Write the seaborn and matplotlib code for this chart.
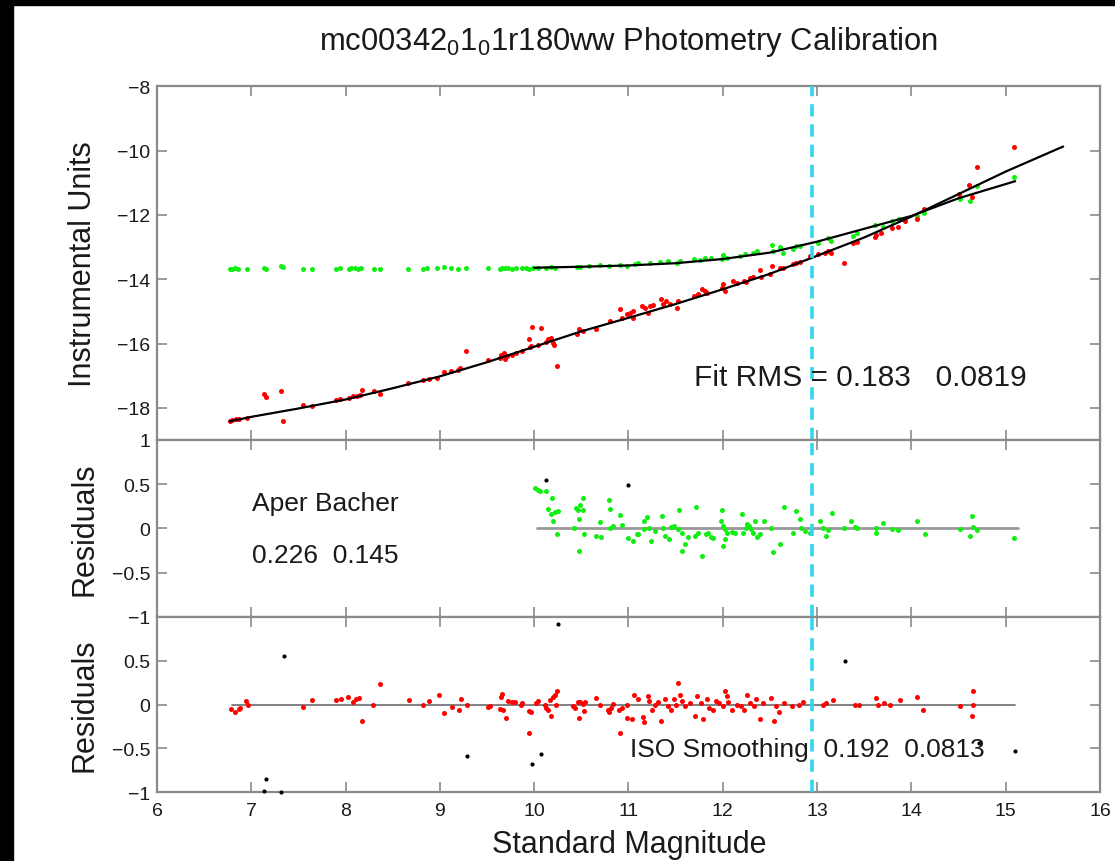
import matplotlib
matplotlib.use("Agg")
import matplotlib.pyplot as plt
from matplotlib.patches import Rectangle
import seaborn as sns

# ---------------- data ----------------
top_red_x = [6.77, 6.80, 6.84, 6.87, 6.95, 7.14, 7.16, 7.31, 7.34, 7.55, 7.64, 7.90, 7.94, 8.04, 8.08,
             8.12, 8.15, 8.17, 8.30, 8.36, 8.66, 8.82, 8.88, 8.97, 9.04, 9.12, 9.19, 9.21, 9.28, 9.51,
             9.64, 9.65, 9.68, 9.69, 9.71, 9.76, 9.81, 9.87, 9.94, 9.96, 9.97, 9.98, 10.04, 10.07, 10.13,
             10.15, 10.18, 10.20, 10.21, 10.24, 10.45, 10.48, 10.52, 10.66, 10.80, 10.91, 10.93, 10.98,
             11.02, 11.05, 11.05, 11.14, 11.18, 11.21, 11.23, 11.26, 11.35, 11.37, 11.40, 11.44, 11.51,
             11.53, 11.70, 11.74, 11.78, 11.81, 11.83, 11.99, 12.00, 12.02, 12.11, 12.15, 12.22, 12.25,
             12.29, 12.32, 12.39, 12.41, 12.50, 12.52, 12.61, 12.64, 12.75, 12.78, 12.82, 12.92, 13.01,
             13.08, 13.12, 13.15, 13.29, 13.38, 13.42, 13.61, 13.63, 13.68, 13.79, 13.86, 13.93, 14.06,
             14.13, 14.51, 14.61, 14.64, 14.70, 15.09]
top_red_y = [-18.41, -18.38, -18.34, -18.34, -18.32, -17.58, -17.66, -17.48, -18.41, -17.90, -17.93,
             -17.76, -17.74, -17.69, -17.64, -17.64, -17.61, -17.43, -17.48, -17.58, -17.24, -17.12,
             -17.09, -17.07, -16.89, -16.86, -16.83, -16.75, -16.23, -16.52, -16.44, -16.37, -16.29,
             -16.48, -16.38, -16.36, -16.29, -16.24, -15.87, -16.10, -16.08, -15.48, -16.03, -15.51,
             -15.95, -15.85, -15.82, -15.98, -16.03, -16.70, -15.69, -15.55, -15.62, -15.55, -15.30,
             -14.93, -15.19, -15.09, -15.04, -14.99, -15.22, -14.83, -14.88, -15.04, -14.83, -14.81,
             -14.62, -14.78, -14.68, -14.78, -14.88, -14.68, -14.52, -14.47, -14.31, -14.36, -14.42,
             -14.26, -14.16, -14.36, -14.05, -14.12, -14.05, -14.10, -13.95, -13.92, -13.72, -13.92,
             -13.84, -13.58, -13.64, -13.64, -13.53, -13.48, -13.46, -13.27, -13.22, -13.17, -13.12,
             -13.19, -13.48, -12.88, -12.84, -12.70, -12.63, -12.57, -12.42, -12.36, -12.18, -12.13,
             -11.82, -11.35, -11.07, -11.43, -10.52, -9.88]

top_green_x = [6.77, 6.80, 6.83, 6.86, 6.95, 7.14, 7.16, 7.31, 7.34, 7.55, 7.64, 7.90, 7.94, 8.04, 8.06,
               8.10, 8.13, 8.16, 8.30, 8.36, 8.66, 8.82, 8.86, 8.97, 9.04, 9.12, 9.19, 9.28, 9.51, 9.64,
               9.66, 9.69, 9.72, 9.77, 9.81, 9.87, 9.91, 9.95, 9.99, 10.04, 10.13, 10.18, 10.22, 10.45,
               10.49, 10.58, 10.70, 10.79, 10.91, 10.98, 11.07, 11.10, 11.23, 11.33, 11.42, 11.51, 11.55,
               11.70, 11.76, 11.81, 11.88, 11.99, 12.00, 12.04, 12.18, 12.24, 12.32, 12.36, 12.52, 12.53,
               12.61, 12.64, 12.75, 12.78, 12.82, 13.01, 13.12, 13.15, 13.38, 13.42, 13.61, 13.70, 13.79,
               13.87, 14.06, 14.13, 14.52, 14.62, 14.70, 15.09]
top_green_y = [-13.67, -13.67, -13.66, -13.67, -13.67, -13.66, -13.67, -13.60, -13.62, -13.68, -13.67,
               -13.67, -13.66, -13.67, -13.66, -13.66, -13.67, -13.66, -13.67, -13.67, -13.67, -13.67,
               -13.66, -13.65, -13.62, -13.66, -13.67, -13.66, -13.66, -13.67, -13.65, -13.66, -13.66,
               -13.67, -13.65, -13.66, -13.66, -13.67, -13.66, -13.64, -13.65, -13.63, -13.64, -13.63,
               -13.61, -13.58, -13.56, -13.60, -13.56, -13.58, -13.53, -13.50, -13.48, -13.46, -13.43,
               -13.50, -13.43, -13.38, -13.40, -13.33, -13.33, -13.38, -13.25, -13.33, -13.27, -13.22,
               -13.17, -13.12, -12.94, -13.12, -13.01, -13.17, -13.07, -12.98, -12.96, -12.86, -12.73,
               -12.81, -12.65, -12.55, -12.32, -12.36, -12.18, -12.11, -12.03, -11.94, -11.51, -11.56,
               -11.09, -10.83]

fit_red_x = [6.77, 7.0, 7.5, 8.0, 8.5, 9.0, 9.5, 10.0, 10.5, 11.0, 11.5, 12.0, 12.5, 13.0, 13.5,
             14.0, 14.5, 15.0, 15.61]
fit_red_y = [-18.42, -18.28, -18.02, -17.74, -17.39, -17.02, -16.58, -16.10, -15.62, -15.20, -14.77,
             -14.31, -13.83, -13.27, -12.70, -12.05, -11.35, -10.65, -9.87]
fit_green_x = [10.0, 10.5, 11.0, 11.5, 12.0, 12.5, 13.0, 13.5, 14.0, 14.5, 15.1]
fit_green_y = [-13.64, -13.61, -13.57, -13.50, -13.37, -13.17, -12.83, -12.43, -12.03, -11.48, -10.95]

res_green_x = [10.01, 10.04, 10.06, 10.13, 10.19, 10.15, 10.18, 10.22, 10.25, 10.20, 10.24, 10.42,
               10.44, 10.47, 10.48, 10.49, 10.52, 10.52, 10.48, 10.53, 10.66, 10.71, 10.70, 10.79, 10.80,
               10.80, 10.84, 10.91, 10.93, 10.99, 11.05, 11.09, 11.10, 11.16, 11.20, 11.17, 11.22, 11.24,
               11.28, 11.36, 11.37, 11.39, 11.43, 11.45, 11.48, 11.52, 11.54, 11.57, 11.57, 11.60, 11.63,
               11.71, 11.72, 11.74, 11.78, 11.82, 11.84, 11.87, 11.90, 11.98, 11.99, 12.00, 12.02, 12.00,
               12.02, 12.05, 12.10, 12.13, 12.20, 12.21, 12.25, 12.26, 12.28, 12.30, 12.32, 12.34, 12.36,
               12.39, 12.44, 12.51, 12.53, 12.61, 12.65, 12.75, 12.78, 12.82, 12.83, 12.87, 12.93, 13.03,
               13.06, 13.10, 13.12, 13.16, 13.29, 13.36, 13.40, 13.42, 13.62, 13.63, 13.70, 13.79, 13.86,
               14.06, 14.14, 14.52, 14.62, 14.64, 14.65, 14.70, 15.09]
res_green_y = [0.46, 0.44, 0.42, 0.42, 0.34, 0.22, 0.16, 0.19, 0.20, 0.09, -0.06, 0.01, 0.23, 0.21,
               0.11, 0.27, 0.34, 0.21, -0.26, -0.06, -0.08, -0.10, 0.07, 0.32, 0.22, 0.01, 0.03, 0.15,
               0.04, -0.11, -0.14, -0.06, -0.06, 0.08, 0.13, -0.01, 0.01, -0.14, -0.03, 0.14, 0.00,
               -0.08, -0.12, 0.02, 0.03, -0.01, 0.21, -0.05, -0.26, -0.18, -0.10, -0.08, 0.24, -0.05,
               -0.31, -0.06, -0.05, -0.10, -0.11, 0.09, 0.21, 0.03, -0.01, -0.20, -0.12, -0.05, -0.04,
               -0.05, 0.16, -0.05, 0.00, 0.05, 0.03, -0.01, -0.05, 0.08, -0.10, -0.06, 0.09, 0.01, -0.27,
               -0.17, 0.24, -0.05, 0.20, 0.11, 0.01, -0.03, -0.05, 0.09, 0.01, -0.08, -0.02, 0.18, 0.01,
               0.09, 0.02, 0.00, 0.01, -0.05, 0.06, -0.01, -0.02, 0.08, -0.06, -0.01, -0.08, 0.14, 0.02,
               -0.02, -0.11]
out_green_x = [10.13, 10.99]
out_green_y = [0.55, 0.49]

res_red_x = [6.78, 6.83, 6.87, 6.88, 6.94, 6.96, 7.55, 7.64, 7.90, 7.95, 8.03, 8.08, 8.11, 8.14, 8.17,
             8.29, 8.36, 8.67, 8.82, 8.88, 8.99, 9.04, 9.13, 9.20, 9.22, 9.29, 9.51, 9.53, 9.64, 9.65,
             9.66, 9.67, 9.70, 9.72, 9.76, 9.80, 9.86, 9.87, 9.94, 9.95, 9.97, 10.02, 10.04, 10.11,
             10.13, 10.15, 10.17, 10.18, 10.20, 10.22, 10.24, 10.23, 10.41, 10.43, 10.46, 10.48, 10.49,
             10.52, 10.54, 10.53, 10.66, 10.70, 10.78, 10.79, 10.81, 10.84, 10.90, 10.91, 10.93, 10.98,
             10.98, 11.04, 11.06, 11.10, 11.15, 11.17, 11.21, 11.22, 11.25, 11.28, 11.31, 11.35, 11.39,
             11.42, 11.45, 11.48, 11.50, 11.53, 11.55, 11.57, 11.60, 11.65, 11.71, 11.73, 11.77, 11.79,
             11.83, 11.85, 11.90, 11.93, 11.96, 12.00, 12.02, 12.04, 12.06, 12.10, 12.15, 12.19, 12.23,
             12.26, 12.29, 12.33, 12.35, 12.40, 12.43, 12.51, 12.54, 12.56, 12.60, 12.65, 12.73, 12.81,
             12.85, 13.06, 13.10, 13.17, 13.40, 13.44, 13.62, 13.65, 13.71, 13.77, 13.88, 14.06, 14.12,
             14.52, 14.65, 14.65, 14.64]
res_red_y = [-0.05, -0.09, -0.05, -0.04, 0.04, 0.00, -0.03, 0.05, 0.05, 0.06, 0.09, 0.03, 0.06, 0.07,
             -0.19, 0.00, 0.23, 0.05, -0.01, 0.04, 0.11, -0.10, -0.03, -0.06, 0.06, 0.00, -0.03, -0.02,
             -0.05, 0.09, 0.12, -0.06, -0.15, 0.04, 0.03, 0.03, 0.00, 0.02, -0.32, -0.07, -0.08, 0.02,
             0.04, 0.00, -0.04, -0.06, 0.05, -0.13, 0.09, 0.11, 0.15, 0.00, -0.02, -0.04, 0.03, -0.15,
             0.03, 0.01, 0.03, -0.07, 0.08, 0.00, -0.06, -0.08, -0.04, 0.01, -0.06, -0.32, -0.04, -0.15,
             0.00, -0.16, 0.11, 0.06, -0.14, -0.20, 0.10, 0.04, -0.06, 0.00, 0.03, -0.19, 0.06, -0.02,
             -0.06, 0.06, 0.00, 0.25, 0.11, 0.04, -0.02, 0.02, -0.13, 0.10, 0.02, -0.17, 0.06, -0.04,
             -0.06, 0.04, 0.02, -0.02, 0.16, 0.10, 0.03, -0.06, 0.00, -0.02, -0.06, 0.11, 0.02, -0.02,
             0.06, -0.17, 0.02, 0.08, -0.19, -0.02, -0.08, 0.02, -0.02, 0.00, 0.03, -0.01, 0.02, 0.05,
             0.00, -0.01, 0.08, 0.00, 0.02, 0.00, 0.05, 0.09, -0.06, -0.02, 0.15, 0.00, -0.13]
out_red_x = [10.25, 7.35, 9.29, 9.98, 10.07, 7.16, 7.14, 7.31, 13.30, 15.10, 14.72]
out_red_y = [0.92, 0.55, -0.59, -0.68, -0.57, -0.85, -0.99, -1.00, 0.50, -0.53, -0.44]

zero_mid_x = [10.03, 15.13]
zero_bot_x = [6.80, 15.10]
zero_y = [0.0, 0.0]
cut_mag = 12.95

x_ticks = [6, 7, 8, 9, 10, 11, 12, 13, 14, 15, 16]
top_yticks = [-18, -16, -14, -12, -10, -8]
top_ticklabels = ["\u221218", "\u221216", "\u221214", "\u221212", "\u221210", "\u22128"]
res_yticks = [-1, -0.5, 0, 0.5, 1]
mid_ticklabels = ["\u22121", "\u22120.5", "0", "0.5", "1"]
# the bottom panel's "1" sits exactly under the middle panel's "-1"
bot_ticklabels = ["\u22121", "\u22120.5", "0", "0.5", ""]

# ---------------- style ----------------
sns.set_style("ticks")
plt.rcParams["font.family"] = ["Liberation Sans", "DejaVu Sans"]
plt.rcParams["mathtext.fontset"] = "custom"
plt.rcParams["mathtext.rm"] = "Liberation Sans"
plt.rcParams["mathtext.it"] = "Liberation Sans"
plt.rcParams["axes.unicode_minus"] = True

RED = "#ff0000"
GREEN = "#11ee11"
CYAN = "#2fd8ef"
SPINE = "#8a8a8a"
TXT = "#1a1a1a"
DOT = 13

fig = plt.figure(figsize=(11.15, 8.62), dpi=100)
ax_top = fig.add_axes([0.1408, 0.4884, 0.8457, 0.4102])
ax_mid = fig.add_axes([0.1408, 0.2831, 0.8457, 0.2053])
ax_bot = fig.add_axes([0.1408, 0.0800, 0.8457, 0.2030])

# top panel
sns.scatterplot(x=top_green_x, y=top_green_y, color=GREEN, s=DOT, linewidth=0, ax=ax_top, zorder=3)
sns.scatterplot(x=top_red_x, y=top_red_y, color=RED, s=DOT, linewidth=0, ax=ax_top, zorder=3)
sns.lineplot(x=fit_red_x, y=fit_red_y, color="black", lw=1.6, estimator=None, sort=False, ax=ax_top, zorder=4)
sns.lineplot(x=fit_green_x, y=fit_green_y, color="black", lw=1.6, estimator=None, sort=False, ax=ax_top, zorder=4)
ax_top.set_ylim(-19, -8)
ax_top.set_yticks(top_yticks)
ax_top.set_yticklabels(top_ticklabels)
ax_top.text(11.70, -17.05, "Fit RMS = 0.183   0.0819", fontsize=21.5, color=TXT, ha="left", va="center", zorder=6)

# middle panel
sns.lineplot(x=zero_mid_x, y=zero_y, color="#999999", lw=2.0, estimator=None, sort=False, ax=ax_mid, zorder=2)
sns.scatterplot(x=res_green_x, y=res_green_y, color=GREEN, s=DOT, linewidth=0, ax=ax_mid, zorder=3)
sns.scatterplot(x=out_green_x, y=out_green_y, color="black", s=9, linewidth=0, ax=ax_mid, zorder=3)
ax_mid.set_ylim(-1, 1)
ax_mid.set_yticks(res_yticks)
ax_mid.set_yticklabels(mid_ticklabels)
ax_mid.text(7.01, 0.29, "Aper Bacher", fontsize=19, color=TXT, ha="left", va="center")
ax_mid.text(7.01, -0.30, "0.226  0.145", fontsize=19, color=TXT, ha="left", va="center")

# bottom panel
sns.lineplot(x=zero_bot_x, y=zero_y, color="#777777", lw=1.3, estimator=None, sort=False, ax=ax_bot, zorder=2)
sns.scatterplot(x=res_red_x, y=res_red_y, color=RED, s=DOT, linewidth=0, ax=ax_bot, zorder=3)
sns.scatterplot(x=out_red_x, y=out_red_y, color="black", s=9, linewidth=0, ax=ax_bot, zorder=3, clip_on=False)
ax_bot.set_ylim(-1, 1)
ax_bot.set_yticks(res_yticks)
ax_bot.set_yticklabels(bot_ticklabels)
ax_bot.text(11.02, -0.51, "ISO Smoothing  0.192  0.0813", fontsize=19, color=TXT, ha="left", va="center", zorder=6)

for ax in (ax_top, ax_mid, ax_bot):
    ax.set_xlim(6, 16)
    ax.set_xticks(x_ticks)
    ax.axvline(cut_mag, color=CYAN, lw=2.6, dashes=(3.4, 2.2), zorder=5)
    ax.set_xlabel("")
    ax.set_ylabel("")
    ax.tick_params(axis="both", direction="in", length=7, width=1.2, color=SPINE,
                   top=True, right=True, labelsize=14, labelcolor=TXT)
    ax.tick_params(axis="x", pad=7)
    ax.tick_params(axis="y", pad=5)
    for sp in ax.spines.values():
        sp.set_color(SPINE)
        sp.set_linewidth(1.6)
        sp.set_visible(True)
    if ax is not ax_bot:
        ax.tick_params(axis="x", labelbottom=False)

# titles / labels
fig.text(0.5641, 0.951, r"mc00342$_\mathregular{0}$1$_\mathregular{0}$1r180ww Photometry Calibration",
         fontsize=22.3, color=TXT, ha="center", va="center")
fig.text(0.0744, 0.6937, "Instrumental Units", fontsize=22, color=TXT, rotation=90, ha="center", va="center")
fig.text(0.0755, 0.3857, "Residuals", fontsize=22, color=TXT, rotation=90, ha="center", va="center")
fig.text(0.0755, 0.1815, "Residuals", fontsize=22, color=TXT, rotation=90, ha="center", va="center")
fig.text(0.5641, 0.0197, "Standard Magnitude", fontsize=22, color=TXT, ha="center", va="center")

# black frame pieces of the screenshot
fig.add_artist(Rectangle((0, 0), 13 / 1115, 1, transform=fig.transFigure, color="black", zorder=10))
fig.add_artist(Rectangle((0, 1 - 6 / 862), 1, 6 / 862, transform=fig.transFigure, color="black", zorder=10))

fig.savefig("out.png", dpi=100)
